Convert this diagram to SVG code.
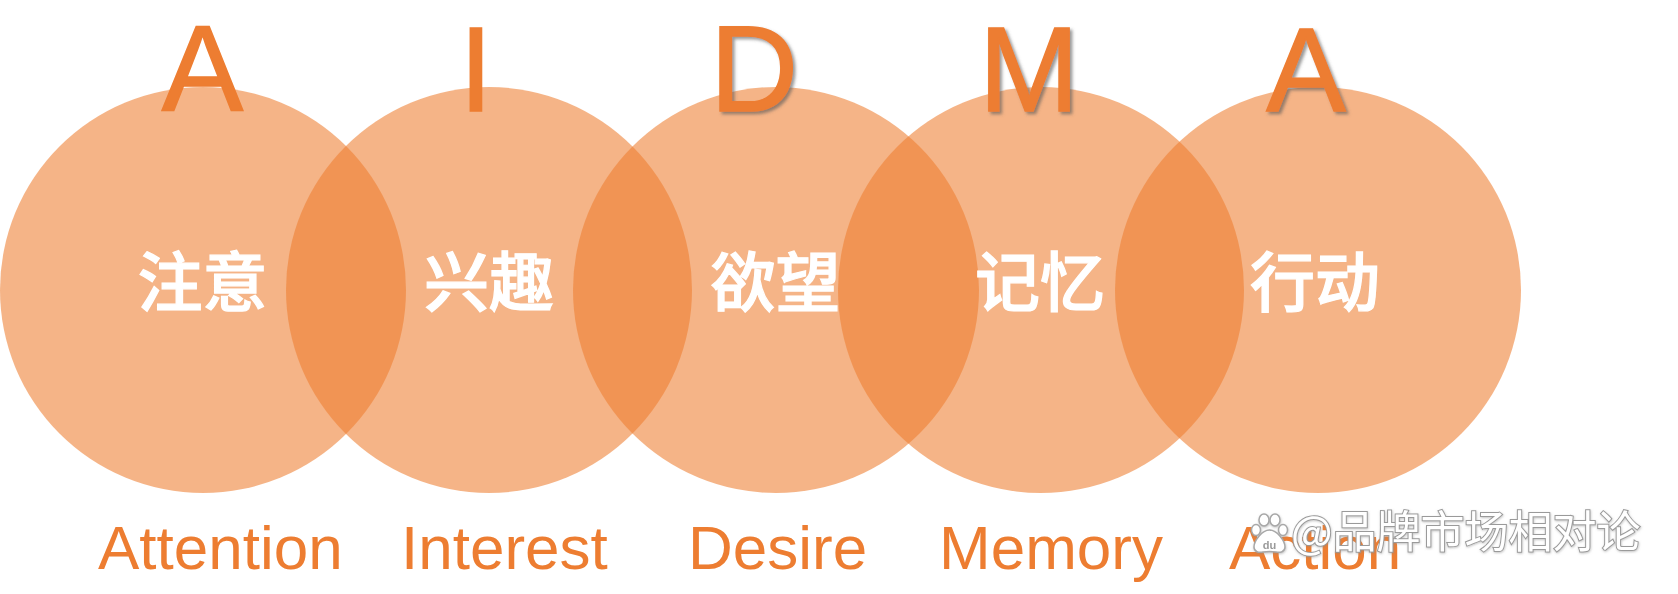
<svg xmlns="http://www.w3.org/2000/svg" width="1678" height="594" viewBox="0 0 1678 594">
<defs>
<style>
.c{fill:#ED7D31;fill-opacity:0.58}
.big{font-family:"Liberation Sans",Arial,sans-serif;fill:#ED7D31;text-anchor:middle;stroke:#ED7D31;stroke-width:1.5}
.cn{font-family:"Noto Sans CJK SC",sans-serif;font-weight:500;font-size:65px;fill:#FFFFFF;stroke:#FFFFFF;stroke-width:1.2;text-anchor:middle}
.en{font-family:"Liberation Sans",Arial,sans-serif;font-size:62px;fill:#ED7D31}
.wm{font-family:"Noto Sans CJK SC",sans-serif;font-weight:400;font-size:44px;fill:#FFFFFF;stroke:#9a9a9a;stroke-width:2;paint-order:stroke}
.paw{fill:#FFFFFF;stroke:#a8a8a8;stroke-width:1.5}
</style>
<filter id="sh" x="-20%" y="-20%" width="140%" height="140%">
<feDropShadow dx="2.5" dy="2.5" stdDeviation="1.5" flood-color="#555555" flood-opacity="0.6"/>
</filter>
<filter id="wsh" x="-10%" y="-20%" width="120%" height="140%">
<feDropShadow dx="0.5" dy="1" stdDeviation="1" flood-color="#888888" flood-opacity="0.5"/>
</filter>
</defs>
<rect width="1678" height="594" fill="#FFFFFF"/>
<g id="circles">
<circle id="circle-attention" class="c" cx="203" cy="290" r="203"/>
<circle id="circle-interest" class="c" cx="489" cy="290" r="203"/>
<circle id="circle-desire" class="c" cx="776" cy="290" r="203"/>
<circle id="circle-memory" class="c" cx="1041" cy="290" r="203"/>
<circle id="circle-action" class="c" cx="1318" cy="290" r="203"/>
</g>
<g id="connectors"/>
<g id="node-attention">
<text class="big" x="202.5" y="111" font-size="122">A</text>
<text class="cn" x="202.5" y="306">注意</text>
<text class="en" x="98" y="569">Attention</text>
</g>
<g id="node-interest">
<text class="big" x="476" y="111" font-size="120" stroke-width="0.5">I</text>
<text class="cn" x="489" y="306">兴趣</text>
<text class="en" x="401" y="569">Interest</text>
</g>
<g id="node-desire">
<text class="big" x="754" y="111" font-size="122" filter="url(#sh)">D</text>
<text class="cn" x="775.5" y="306">欲望</text>
<text class="en" x="688" y="569">Desire</text>
</g>
<g id="node-memory">
<text class="big" x="1029" y="111" font-size="120" filter="url(#sh)">M</text>
<text class="cn" x="1040" y="306">记忆</text>
<text class="en" x="939" y="569">Memory</text>
</g>
<g id="node-action">
<text class="big" x="1306" y="111" font-size="119" filter="url(#sh)">A</text>
<text class="cn" x="1315" y="306">行动</text>
<text class="en" x="1229" y="569">Action</text>
</g>
<g id="watermark" filter="url(#wsh)">
<ellipse class="paw" cx="1256" cy="530" rx="4.5" ry="5.5"/>
<ellipse class="paw" cx="1264" cy="520" rx="5" ry="6"/>
<ellipse class="paw" cx="1275" cy="520" rx="5" ry="6"/>
<ellipse class="paw" cx="1283" cy="530" rx="4.5" ry="5.5"/>
<path class="paw" d="M1269.5 530 C1262 530 1254 541 1254 547 C1254 552 1259 553 1263 552 C1266 551.5 1273 551.5 1276 552 C1280 553 1285 552 1285 547 C1285 541 1277 530 1269.5 530 Z"/>
<text x="1269.5" y="549" font-family="Liberation Sans,Arial,sans-serif" font-size="11" font-weight="700" fill="#9a9a9a" text-anchor="middle">du</text>
<text class="wm" x="1291" y="548">@品牌市场相对论</text>
</g>
</svg>
